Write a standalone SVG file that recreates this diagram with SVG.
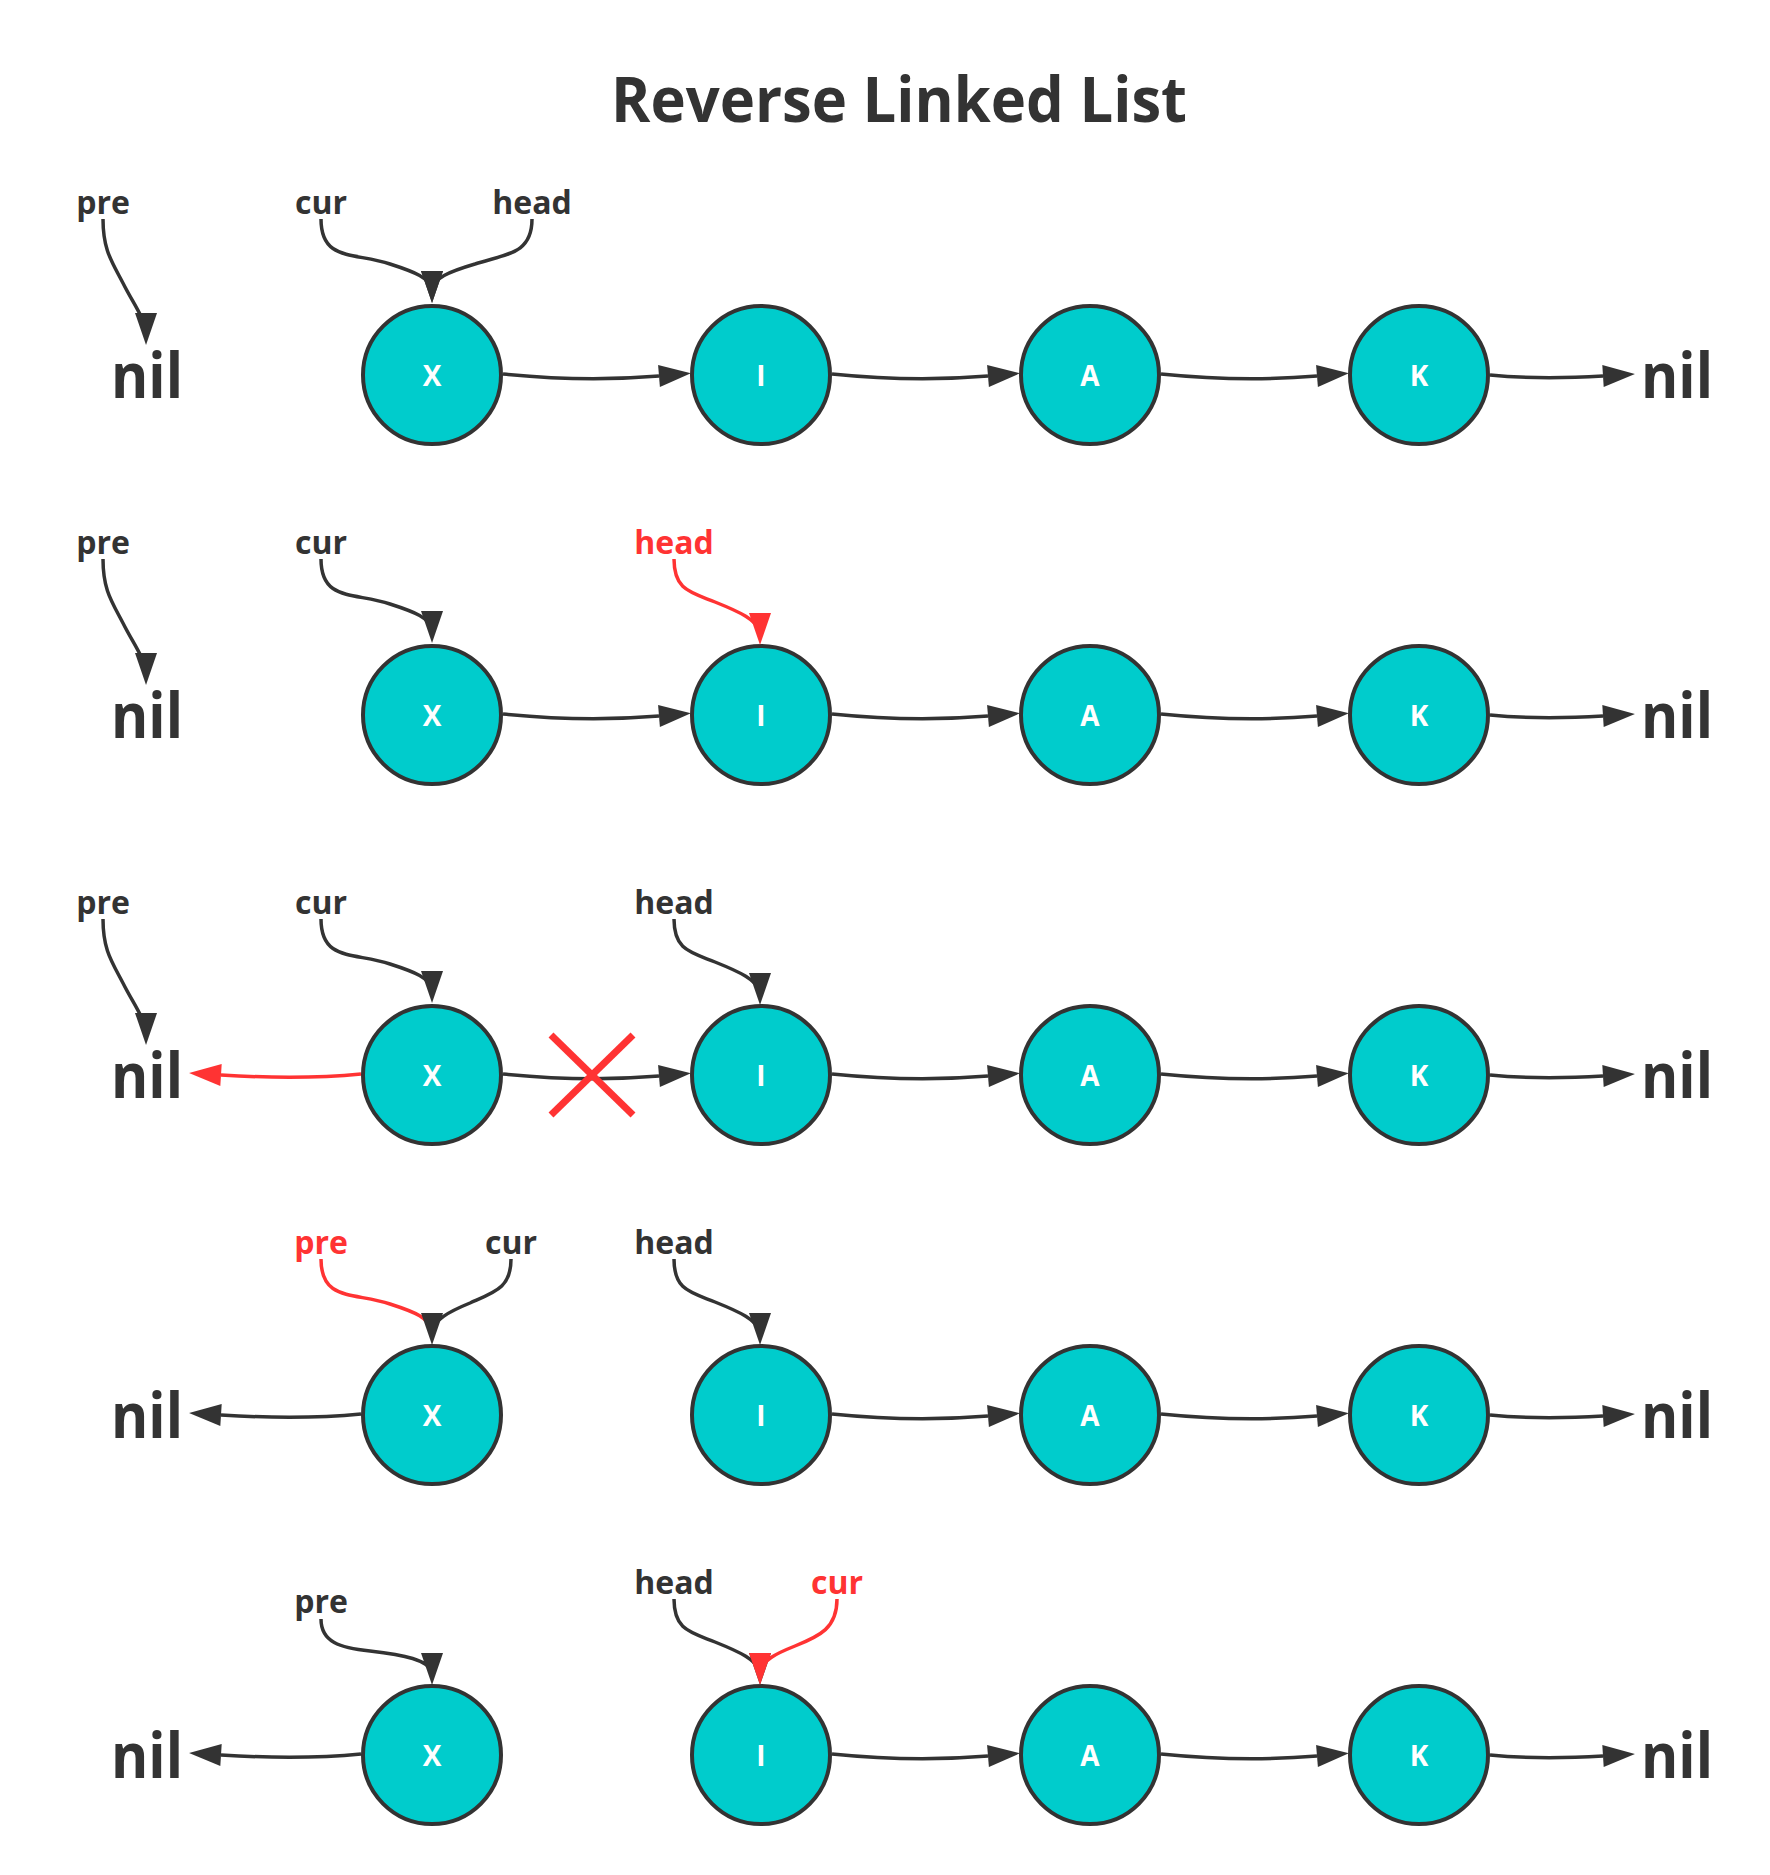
<svg xmlns="http://www.w3.org/2000/svg" width="1770" height="1875" viewBox="0 0 1770 1875">
<style>
  text { font-family: "Open Sans", "Noto Sans", "Liberation Sans", sans-serif; font-weight: 700; }
  .title { font-size: 63px; fill: #333; text-anchor: middle; }
  .node circle { fill: #00CCCC; stroke: #333; stroke-width: 4; }
  .node text { font-size: 28px; fill: #fff; text-anchor: middle; }
  .nil text { font-size: 63px; fill: #333; text-anchor: middle; }
  .lbl { font-size: 32px; fill: #333; text-anchor: middle; }
  .lbl.red { fill: #FF3333; }
  .ln { fill: none; stroke: #333; stroke-width: 3.5; }
  .ln.red { stroke: #FF3333; }
  .dk { marker-end: url(#ah); }
  .rd { marker-end: url(#ahr); }
  .pdk { marker-end: url(#pd); }
  .prd { marker-end: url(#pr); }
  .cut line { stroke: #FF3333; stroke-width: 7; }
</style>
<defs>
  <marker id="ah" markerUnits="userSpaceOnUse" markerWidth="40" markerHeight="30" refX="0" refY="11" orient="auto" overflow="visible">
    <path d="M0,0 L32,11 L0,22 z" fill="#333"/>
  </marker>
  <marker id="ahr" markerUnits="userSpaceOnUse" markerWidth="40" markerHeight="30" refX="0" refY="11" orient="auto" overflow="visible">
    <path d="M0,0 L32,11 L0,22 z" fill="#FF3333"/>
  </marker>
  <marker id="pd" markerUnits="userSpaceOnUse" markerWidth="40" markerHeight="30" refX="19" refY="11" orient="90" overflow="visible">
    <path d="M0,0 L32,11 L0,22 z" fill="#333"/>
  </marker>
  <marker id="pr" markerUnits="userSpaceOnUse" markerWidth="40" markerHeight="30" refX="19" refY="11" orient="90" overflow="visible">
    <path d="M0,0 L32,11 L0,22 z" fill="#FF3333"/>
  </marker>
</defs>
<rect width="1770" height="1875" fill="#fff"/>
<text class="title" x="899" y="122" textLength="576" lengthAdjust="spacingAndGlyphs">Reverse Linked List</text>

<!-- pointer labels -->
<g id="labels">
  <text class="lbl" x="103" y="214">pre</text>
  <text class="lbl" x="321" y="214">cur</text>
  <text class="lbl" x="532" y="214">head</text>

  <text class="lbl" x="103" y="554">pre</text>
  <text class="lbl" x="321" y="554">cur</text>
  <text class="lbl red" x="674" y="554">head</text>

  <text class="lbl" x="103" y="914">pre</text>
  <text class="lbl" x="321" y="914">cur</text>
  <text class="lbl" x="674" y="914">head</text>

  <text class="lbl red" x="321" y="1254">pre</text>
  <text class="lbl" x="511" y="1254">cur</text>
  <text class="lbl" x="674" y="1254">head</text>

  <text class="lbl" x="321" y="1613">pre</text>
  <text class="lbl" x="674" y="1594">head</text>
  <text class="lbl red" x="837" y="1594">cur</text>
</g>

<!-- nil endpoints -->
<g id="nil-left-1" class="nil"><text x="147" y="398" textLength="72" lengthAdjust="spacingAndGlyphs">nil</text></g>
<g id="nil-right-1" class="nil"><text x="1677" y="398" textLength="72" lengthAdjust="spacingAndGlyphs">nil</text></g>
<g id="nil-left-2" class="nil"><text x="147" y="738" textLength="72" lengthAdjust="spacingAndGlyphs">nil</text></g>
<g id="nil-right-2" class="nil"><text x="1677" y="738" textLength="72" lengthAdjust="spacingAndGlyphs">nil</text></g>
<g id="nil-left-3" class="nil"><text x="147" y="1098" textLength="72" lengthAdjust="spacingAndGlyphs">nil</text></g>
<g id="nil-right-3" class="nil"><text x="1677" y="1098" textLength="72" lengthAdjust="spacingAndGlyphs">nil</text></g>
<g id="nil-left-4" class="nil"><text x="147" y="1438" textLength="72" lengthAdjust="spacingAndGlyphs">nil</text></g>
<g id="nil-right-4" class="nil"><text x="1677" y="1438" textLength="72" lengthAdjust="spacingAndGlyphs">nil</text></g>
<g id="nil-left-5" class="nil"><text x="147" y="1778" textLength="72" lengthAdjust="spacingAndGlyphs">nil</text></g>
<g id="nil-right-5" class="nil"><text x="1677" y="1778" textLength="72" lengthAdjust="spacingAndGlyphs">nil</text></g>

<!-- nodes -->
<g id="r1-X" class="node"><circle cx="432" cy="375" r="69"/><text x="432" y="386">X</text></g>
<g id="r1-I" class="node"><circle cx="761" cy="375" r="69"/><text x="761" y="386">I</text></g>
<g id="r1-A" class="node"><circle cx="1090" cy="375" r="69"/><text x="1090" y="386">A</text></g>
<g id="r1-K" class="node"><circle cx="1419" cy="375" r="69"/><text x="1419" y="386">K</text></g>

<g id="r2-X" class="node"><circle cx="432" cy="715" r="69"/><text x="432" y="726">X</text></g>
<g id="r2-I" class="node"><circle cx="761" cy="715" r="69"/><text x="761" y="726">I</text></g>
<g id="r2-A" class="node"><circle cx="1090" cy="715" r="69"/><text x="1090" y="726">A</text></g>
<g id="r2-K" class="node"><circle cx="1419" cy="715" r="69"/><text x="1419" y="726">K</text></g>

<g id="r3-X" class="node"><circle cx="432" cy="1075" r="69"/><text x="432" y="1086">X</text></g>
<g id="r3-I" class="node"><circle cx="761" cy="1075" r="69"/><text x="761" y="1086">I</text></g>
<g id="r3-A" class="node"><circle cx="1090" cy="1075" r="69"/><text x="1090" y="1086">A</text></g>
<g id="r3-K" class="node"><circle cx="1419" cy="1075" r="69"/><text x="1419" y="1086">K</text></g>

<g id="r4-X" class="node"><circle cx="432" cy="1415" r="69"/><text x="432" y="1426">X</text></g>
<g id="r4-I" class="node"><circle cx="761" cy="1415" r="69"/><text x="761" y="1426">I</text></g>
<g id="r4-A" class="node"><circle cx="1090" cy="1415" r="69"/><text x="1090" y="1426">A</text></g>
<g id="r4-K" class="node"><circle cx="1419" cy="1415" r="69"/><text x="1419" y="1426">K</text></g>

<g id="r5-X" class="node"><circle cx="432" cy="1755" r="69"/><text x="432" y="1766">X</text></g>
<g id="r5-I" class="node"><circle cx="761" cy="1755" r="69"/><text x="761" y="1766">I</text></g>
<g id="r5-A" class="node"><circle cx="1090" cy="1755" r="69"/><text x="1090" y="1766">A</text></g>
<g id="r5-K" class="node"><circle cx="1419" cy="1755" r="69"/><text x="1419" y="1766">K</text></g>

<!-- connectors (drawn in row-1 coordinates, shifted per row) -->
<g id="connectors">
  <g id="row1-links">
    <path class="ln pdk" d="M103,219 C103,252 113,263 125,287 C135,306 144,318 146,332"/>
    <path class="ln pdk" d="M321,219 C321,262 355,252 390,264 C415,272 430,278 432,290"/>
    <path class="ln pdk" d="M532,219 C532,255 505,254 475,264 C448,272 434,278 432,290"/>
    <path class="ln dk" d="M503,374 C562,380 611,380 659,376"/>
    <path class="ln dk" d="M832,374 C891,380 940,380 988,376"/>
    <path class="ln dk" d="M1161,374 C1220,380 1269,380 1317,376"/>
    <path class="ln dk" d="M1490,375 C1530,379 1570,378 1603,376"/>
  </g>
  <g id="row2-links" transform="translate(0,340)">
    <path class="ln pdk" d="M103,219 C103,252 113,263 125,287 C135,306 144,318 146,332"/>
    <path class="ln pdk" d="M321,219 C321,262 355,252 390,264 C415,272 430,278 432,290"/>
    <path class="ln red prd" d="M674,219 C674,250 690,252 715,262 C740,272 757,280 760,292"/>
    <path class="ln dk" d="M503,374 C562,380 611,380 659,376"/>
    <path class="ln dk" d="M832,374 C891,380 940,380 988,376"/>
    <path class="ln dk" d="M1161,374 C1220,380 1269,380 1317,376"/>
    <path class="ln dk" d="M1490,375 C1530,379 1570,378 1603,376"/>
  </g>
  <g id="row3-links" transform="translate(0,700)">
    <path class="ln pdk" d="M103,219 C103,252 113,263 125,287 C135,306 144,318 146,332"/>
    <path class="ln pdk" d="M321,219 C321,262 355,252 390,264 C415,272 430,278 432,290"/>
    <path class="ln pdk" d="M674,219 C674,250 690,252 715,262 C740,272 757,280 760,292"/>
    <path class="ln red rd" d="M361,374 C320,378 270,378 221,375"/>
    <path class="ln dk" d="M503,374 C562,380 611,380 659,376"/>
    <path class="ln dk" d="M832,374 C891,380 940,380 988,376"/>
    <path class="ln dk" d="M1161,374 C1220,380 1269,380 1317,376"/>
    <path class="ln dk" d="M1490,375 C1530,379 1570,378 1603,376"/>
  </g>
  <g id="row4-links" transform="translate(0,1040)">
    <path class="ln red" d="M321,219 C321,262 355,252 390,264 C415,272 430,278 432,292"/>
    <path class="ln pdk" d="M511,219 C511,248 495,252 470,263 C448,272 434,280 432,292"/>
    <path class="ln pdk" d="M674,219 C674,250 690,252 715,262 C740,272 757,280 760,292"/>
    <path class="ln dk" d="M361,374 C320,378 270,378 221,375"/>
    <path class="ln dk" d="M832,374 C891,380 940,380 988,376"/>
    <path class="ln dk" d="M1161,374 C1220,380 1269,380 1317,376"/>
    <path class="ln dk" d="M1490,375 C1530,379 1570,378 1603,376"/>
  </g>
  <g id="row5-links" transform="translate(0,1380)">
    <path class="ln pdk" d="M321,239 C321,262 340,268 370,271 C405,275 428,280 432,292"/>
    <path class="ln pdk" d="M674,219 C674,250 690,252 715,262 C740,272 757,280 760,292"/>
    <path class="ln red prd" d="M837,219 C837,248 820,256 795,266 C775,274 763,280 760,292"/>
    <path class="ln dk" d="M361,374 C320,378 270,378 221,375"/>
    <path class="ln dk" d="M832,374 C891,380 940,380 988,376"/>
    <path class="ln dk" d="M1161,374 C1220,380 1269,380 1317,376"/>
    <path class="ln dk" d="M1490,375 C1530,379 1570,378 1603,376"/>
  </g>
</g>

<!-- cut mark on row 3 X->I link -->
<g id="cut-mark" class="cut">
  <line x1="551" y1="1035" x2="633" y2="1115"/>
  <line x1="633" y1="1035" x2="551" y2="1115"/>
</g>
</svg>
